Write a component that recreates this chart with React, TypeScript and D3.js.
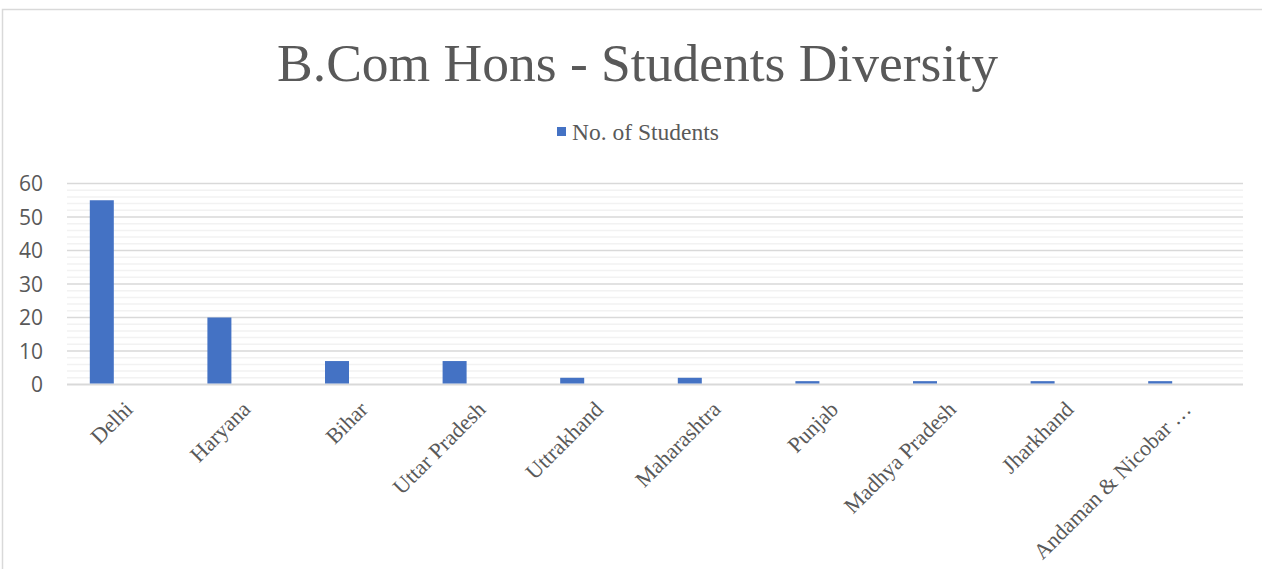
import { useEffect, useRef } from "react";
import * as d3 from "d3";

const categories = [
  "Delhi",
  "Haryana",
  "Bihar",
  "Uttar Pradesh",
  "Uttrakhand",
  "Maharashtra",
  "Punjab",
  "Madhya Pradesh",
  "Jharkhand",
  "Andaman & Nicobar …",
];
const students = [55, 20, 7, 7, 2, 2, 1, 1, 1, 1];
const yTicks = [0, 10, 20, 30, 40, 50, 60];
const minorTicks = d3.range(0, 61, 2);

const W = 1262;
const H = 569;
const serif = "'Liberation Serif', 'Times New Roman', 'DejaVu Serif', serif";

export default function App() {
  const svgRef = useRef<SVGSVGElement>(null);

  useEffect(() => {
    if (!svgRef.current) return;
    const svg = d3.select(svgRef.current);
    svg.selectAll("*").remove();

    const margin = { left: 67, right: 19, top: 183.5, bottom: 184.5 };
    const plotW = W - margin.left - margin.right;
    const plotH = H - margin.top - margin.bottom;

    // chart border
    svg
      .append("rect")
      .attr("x", 2.5)
      .attr("y", 9.5)
      .attr("width", W + 10)
      .attr("height", H + 10)
      .attr("fill", "white")
      .attr("stroke", "#d9d9d9")
      .attr("stroke-width", 1.5);

    // title
    svg
      .append("text")
      .attr("x", 637.5)
      .attr("y", 81)
      .attr("text-anchor", "middle")
      .attr("font-family", serif)
      .attr("font-size", 53.5)
      .attr("fill", "#595959")
      .text("B.Com Hons - Students Diversity");

    // legend
    const lg = svg.append("g").attr("transform", "translate(557,127)");
    lg.append("rect").attr("width", 9).attr("height", 9).attr("fill", "#4472c4");
    lg.append("text")
      .attr("x", 15)
      .attr("y", 12.5)
      .attr("font-family", serif)
      .attr("font-size", 23.5)
      .attr("fill", "#595959")
      .text("No. of Students");

    const g = svg
      .append("g")
      .attr("transform", `translate(${margin.left},${margin.top})`);

    const x = d3.scaleBand<string>().domain(categories).range([0, plotW]);
    const y = d3.scaleLinear().domain([0, 60]).range([plotH, 0]);

    // minor gridlines
    g.selectAll(".minor")
      .data(minorTicks.filter((t) => t % 10 !== 0))
      .join("line")
      .attr("x1", 0)
      .attr("x2", plotW)
      .attr("y1", (d) => y(d))
      .attr("y2", (d) => y(d))
      .attr("stroke", "#f2f2f2")
      .attr("stroke-width", 1.5);

    // major gridlines
    g.selectAll(".major")
      .data(yTicks)
      .join("line")
      .attr("x1", 0)
      .attr("x2", plotW)
      .attr("y1", (d) => y(d))
      .attr("y2", (d) => y(d))
      .attr("stroke", "#d9d9d9")
      .attr("stroke-width", (d) => (d === 0 ? 2 : 1.5));

    // y labels
    g.selectAll(".ylab")
      .data(yTicks)
      .join("text")
      .attr("x", -24)
      .attr("y", (d) => y(d))
      .attr("dy", "0.36em")
      .attr("text-anchor", "end")
      .attr("font-family", "'Open Sans', 'Noto Sans', sans-serif")
      .attr("font-size", 21)
      .attr("fill", "#595959")
      .text((d) => d);

    // bars: first slot of a three-slot cluster in each category
    const barW = 24;
    g.selectAll(".bar")
      .data(students)
      .join("rect")
      .attr("x", (_, i) => x(categories[i])! + x.bandwidth() / 2 - 1.5 * barW)
      .attr("y", (d) => y(d))
      .attr("width", barW)
      .attr("height", (d) => plotH - y(d) - 1)
      .attr("fill", "#4472c4");

    // category labels
    g.selectAll(".xlab")
      .data(categories)
      .join("text")
      .attr(
        "transform",
        (d) => `translate(${x(d)! + x.bandwidth() / 2 - 3},${plotH + 15}) rotate(-45)`
      )
      .attr("text-anchor", "end")
      .attr("dy", "0.72em")
      .attr("font-family", serif)
      .attr("font-size", 22)
      .attr("fill", "#595959")
      .text((d) => d);
  }, []);

  return (
    <svg
      ref={svgRef}
      width={W}
      height={H}
      style={{ position: "absolute", left: 0, top: 0, display: "block" }}
    ></svg>
  );
}
